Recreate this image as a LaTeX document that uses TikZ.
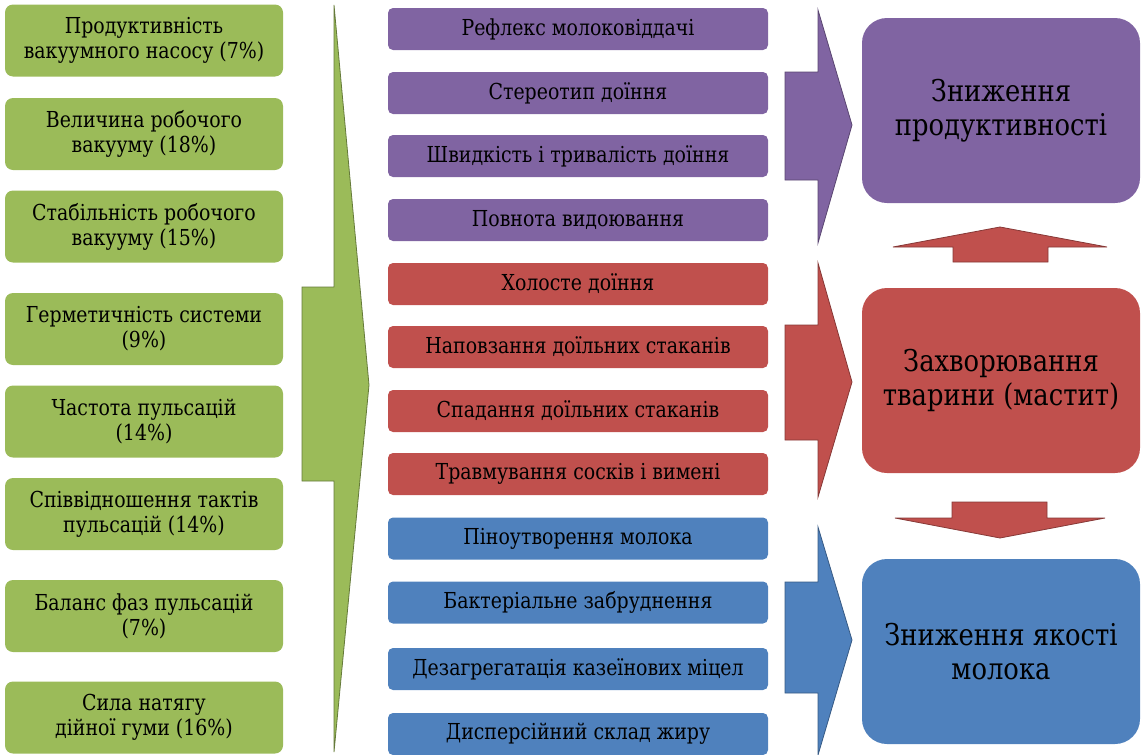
\documentclass[tikz,border=0pt]{standalone}
\usepackage{fontspec}
\setmainfont{DejaVu Serif}[FakeStretch=0.86]
\usepackage{tikz}
\usetikzlibrary{positioning}
\definecolor{zelenyj}{HTML}{9BBB59}
\definecolor{fioletovyj}{HTML}{8064A2}
\definecolor{chervonyj}{HTML}{C0504D}
\definecolor{synij}{HTML}{4F81BD}
\tikzstyle{factor} = [rectangle, rounded corners=8pt, fill=zelenyj, minimum width=278pt, minimum height=72pt, inner sep=0pt, align=center, font=\fontsize{22}{25}\selectfont]
\tikzstyle{cause} = [rectangle, rounded corners=5pt, minimum width=380pt, minimum height=42pt, inner sep=0pt, font=\fontsize{22}{24}\selectfont]
\tikzstyle{result} = [rectangle, rounded corners=25pt, minimum width=278pt, minimum height=185pt, inner sep=0pt, align=center, font=\fontsize{30}{34}\selectfont]
\tikzstyle{block} = [line width=0.8pt, line join=miter]

\begin{document}
\begin{tikzpicture}[x=1pt, y=-1pt]
        \useasboundingbox (0,0) rectangle (1144,755);

        \node[factor] (nasos) at (144,40.5) {Продуктивність\\вакуумного насосу (7\%)};
        \node[factor] (velychyna) at (144,134) {Величина робочого\\вакууму (18\%)};
        \node[factor] (stabilnist) at (144,226.5) {Стабільність робочого\\вакууму (15\%)};
        \node[factor] (germetychnist) at (144,329) {Герметичність системи\\(9\%)};
        \node[factor] (chastota) at (144,421.5) {Частота пульсацій\\(14\%)};
        \node[factor] (takty) at (144,514) {Співвідношення тактів\\пульсацій (14\%)};
        \node[factor] (balans) at (144,616) {Баланс фаз пульсацій\\(7\%)};
        \node[factor] (syla) at (144,717.5) {Сила натягу\\дійної гуми (16\%)};

        \draw[block, fill=zelenyj, draw=zelenyj!65!black] (334,5) -- (369,385) -- (334,752)
            -- (334,481) -- (302,481) -- (302,287) -- (334,287) -- cycle;

        \node[cause, fill=fioletovyj] (refleks) at (578,29) {Рефлекс молоковіддачі};
        \node[cause, fill=fioletovyj] (stereotyp) at (578,93) {Стереотип доїння};
        \node[cause, fill=fioletovyj] (shvydkist) at (578,156) {Швидкість і тривалість доїння};
        \node[cause, fill=fioletovyj] (povnota) at (578,220) {Повнота видоювання};
        \node[cause, fill=chervonyj] (holoste) at (578,284) {Холосте доїння};
        \node[cause, fill=chervonyj] (napovzannya) at (578,347) {Наповзання доїльних стаканів};
        \node[cause, fill=chervonyj] (spadannya) at (578,411) {Спадання доїльних стаканів};
        \node[cause, fill=chervonyj] (travmuvannya) at (578,474) {Травмування сосків і вимені};
        \node[cause, fill=synij] (pina) at (578,538.5) {Піноутворення молока};
        \node[cause, fill=synij] (bakterii) at (578,602.5) {Бактеріальне забруднення};
        \node[cause, fill=synij] (kazein) at (578,669) {Дезагрегатація казеїнових міцел};
        \node[cause, fill=synij] (zhyr) at (578,734) {Дисперсійний склад жиру};

        \draw[block, fill=fioletovyj, draw=fioletovyj!70!black] (818,10) -- (852,125) -- (818,243)
            -- (818,180) -- (785,180) -- (785,72) -- (818,72) -- cycle;
        \draw[block, fill=chervonyj, draw=chervonyj!70!black] (818,263) -- (852,382) -- (818,497)
            -- (818,440) -- (785,440) -- (785,325) -- (818,325) -- cycle;
        \draw[block, fill=synij, draw=synij!70!black] (818,527) -- (852,640) -- (818,755)
            -- (818,693) -- (785,693) -- (785,582) -- (818,582) -- cycle;

        \node[result, fill=fioletovyj] (produktyvnist) at (1001,110.5) {Зниження\\продуктивності};
        \node[result, fill=chervonyj] (mastyt) at (1001,380.5) {Захворювання\\тварини (мастит)};
        \node[result, fill=synij] (yakist) at (1001,651.5) {Зниження якості\\молока};

        \draw[block, fill=chervonyj, draw=chervonyj!70!black] (953,262) -- (953,247) -- (893,247)
            -- (1000,227) -- (1107,247) -- (1048,247) -- (1048,262) -- cycle;
        \draw[block, fill=chervonyj, draw=chervonyj!70!black] (952,502) -- (1047,502) -- (1047,518)
            -- (1105,518) -- (1000,538) -- (895,518) -- (952,518) -- cycle;
    \end{tikzpicture}
\end{document}
